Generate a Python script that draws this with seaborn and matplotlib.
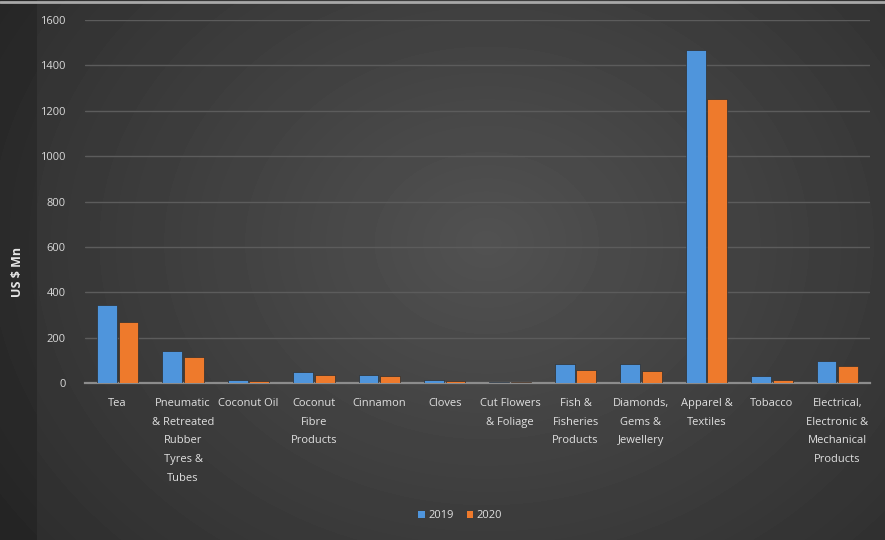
import numpy as np
import pandas as pd
import matplotlib
matplotlib.use("Agg")
import matplotlib.pyplot as plt
import seaborn as sns
from matplotlib.patches import Patch
from matplotlib.lines import Line2D

categories = ["Tea", "Pneumatic\n& Retreated\nRubber\nTyres &\nTubes", "Coconut Oil",
              "Coconut\nFibre\nProducts", "Cinnamon", "Cloves", "Cut Flowers\n& Foliage",
              "Fish &\nFisheries\nProducts", "Diamonds,\nGems &\nJewellery",
              "Apparel &\nTextiles", "Tobacco",
              "Electrical,\nElectronic &\nMechanical\nProducts"]
values_2019 = [344, 141, 13, 49, 36, 13, 6, 82, 82, 1469, 29, 96]
values_2020 = [269, 115, 8, 36, 29, 8, 5, 57, 51, 1251, 12, 75]
series = ["2019", "2020"]
yticks = [0, 200, 400, 600, 800, 1000, 1200, 1400, 1600]

df = pd.DataFrame({
    "category": categories * 2,
    "year": [series[0]] * len(categories) + [series[1]] * len(categories),
    "value": values_2019 + values_2020,
})

sns.set_theme(style="dark")
plt.rcParams["font.family"] = ["Open Sans", "DejaVu Sans"]

fig = plt.figure(figsize=(8.85, 5.4), dpi=100)

# background gradient
bg = fig.add_axes([0, 0, 1, 1], zorder=-10)
xx, yy = np.meshgrid(np.linspace(0, 1, 885), np.linspace(0, 1, 540))
r = np.sqrt(((xx - 0.55) / 0.75) ** 2 + ((yy - 0.55) / 1.0) ** 2)
shade = np.clip(0.32 - 0.16 * r, 0.16, 0.32)
shade[:, :37] = shade[:, :37] * 0.82
bg.imshow(shade, cmap="gray", vmin=0, vmax=1, aspect="auto", extent=[0, 1, 0, 1], origin="lower")
bg.axis("off")
fig.add_artist(Line2D([0, 1], [0.997, 0.997], transform=fig.transFigure,
                      color="#a8a8a8", linewidth=2))

ax = fig.add_axes([0.096, 0.2907, 0.887, 0.6723])
ax.set_facecolor("none")
palette = {"2019": "#4f95dc", "2020": "#ee7a2c"}
sns.barplot(data=df, x="category", y="value", hue="year", palette=palette,
            width=0.66, gap=0.08, ax=ax, edgecolor="#2e2e2e", linewidth=0.5,
            saturation=1, legend=False)
for p in ax.patches:
    p.set_zorder(3)

ax.set_ylim(0, 1600)
ax.set_yticks(yticks)
ax.set_xlim(-0.5, len(categories) - 0.5)
ax.yaxis.grid(True, color="#5c5c5c", linewidth=1)
ax.xaxis.grid(False)
ax.set_axisbelow(True)
for s in ["top", "right", "left"]:
    ax.spines[s].set_visible(False)
ax.spines["bottom"].set_color("#8c8c8c")
ax.spines["bottom"].set_linewidth(1.6)
ax.tick_params(axis="both", length=0, colors="#d9d9d9", labelsize=8)
ax.tick_params(axis="x", pad=11)
ax.tick_params(axis="y", pad=14)
ax.set_xlabel("")
ax.set_ylabel("")
for lab in ax.get_xticklabels():
    lab.set_linespacing(1.95)
    lab.set_verticalalignment("top")
    lab.set_color("#e0e0e0")

fig.text(0.020, 0.497, "US $ Mn", rotation=90, ha="center", va="center",
         color="#e6e6e6", fontsize=9, fontweight="bold")

handles = [Patch(facecolor=palette[s], edgecolor="none", label=s) for s in series]
leg = fig.legend(handles=handles, loc="center", bbox_to_anchor=(0.52, 0.045), ncol=2,
                 frameon=False, fontsize=8, handlelength=0.6, handleheight=0.6,
                 handletextpad=0.3, columnspacing=1.2)
for t in leg.get_texts():
    t.set_color("#e0e0e0")

fig.savefig("out.png", dpi=100)
